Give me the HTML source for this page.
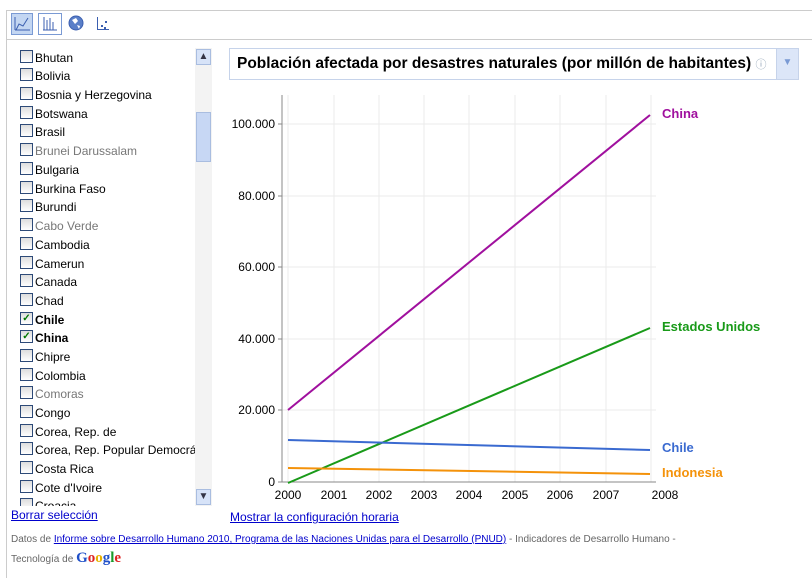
<!DOCTYPE html>
<html><head><meta charset="utf-8"><style>
body{margin:0;width:812px;height:578px;background:#fff;font-family:"Liberation Sans",Arial,sans-serif;position:relative;overflow:hidden}
.a{position:absolute}
.item{position:absolute;left:20px;font-size:12px;color:#000;height:18px;line-height:14px;white-space:nowrap}
.item span.cb{display:inline-block;width:11px;height:11px;border:1px solid #2d4a78;background:linear-gradient(#ddd,#fff);vertical-align:-1px;margin-right:2px;overflow:hidden;font-size:10px;line-height:11px;color:#070;text-align:center}
a{color:#00c}
</style></head><body>
<div class="a" style="left:6px;top:10px;width:806px;height:1px;background:#ccc"></div>
<div class="a" style="left:6px;top:10px;width:1px;height:568px;background:#ccc"></div>
<div class="a" style="left:6px;top:39px;width:806px;height:1px;background:#ccc"></div>
<div class="a" style="left:11px;top:13px;width:22px;height:22px;background:#c3d6f2;border:1px solid #7a9ad4;box-sizing:border-box"></div>
<div class="a" style="left:38px;top:13px;width:24px;height:22px;border:1px solid #7a9ad4;box-sizing:border-box"></div>
<svg class="a" style="left:0;top:0" width="120" height="40">
<polyline points="16,30 19,24 23,26 28,18" fill="none" stroke="#3b5fb0" stroke-width="1"/><line x1="15" y1="17" x2="15" y2="30" stroke="#3b5fb0"/><line x1="15" y1="30" x2="30" y2="30" stroke="#3b5fb0"/>
<g stroke="#3b5fb0"><line x1="44" y1="17" x2="44" y2="30"/><line x1="47" y1="20" x2="47" y2="30"/><line x1="50" y1="18" x2="50" y2="30"/><line x1="53" y1="22" x2="53" y2="30"/><line x1="43" y1="30" x2="57" y2="30"/></g>
<circle cx="76" cy="23" r="7" fill="#5a7fc8" stroke="#3b5fb0"/><path d="M72 20 l4 -2 l2 3 l-3 3z M77 25 l3 1 l-1 3z" fill="#fff"/>
<g fill="#3b5fb0"><rect x="97" y="17" width="1" height="13"/><rect x="97" y="29" width="12" height="1"/><rect x="101" y="25" width="2" height="2"/><rect x="105" y="21" width="2" height="2"/><rect x="104" y="27" width="2" height="2"/></g>
</svg>
<div class="a" style="left:195px;top:48px;width:17px;height:458px;background:#f3f3f3"></div>
<div class="a" style="left:196px;top:49px;width:15px;height:16px;background:#d7e3f8;border:1px solid #a9bde0;box-sizing:border-box;font-size:10px;color:#334;text-align:center;line-height:14px">▲</div>
<div class="a" style="left:196px;top:112px;width:15px;height:50px;background:#c7d7f4;border:1px solid #a9bde0;box-sizing:border-box"></div>
<div class="a" style="left:196px;top:489px;width:15px;height:16px;background:#d7e3f8;border:1px solid #a9bde0;box-sizing:border-box;font-size:10px;color:#334;text-align:center;line-height:14px">▼</div>
<div class="a" style="left:0;top:48px;width:195px;height:458px;overflow:hidden">
<div class="item" style="top:2px"><span class="cb"></span>Bhutan</div>
<div class="item" style="top:20px"><span class="cb"></span>Bolivia</div>
<div class="item" style="top:39px"><span class="cb"></span>Bosnia y Herzegovina</div>
<div class="item" style="top:58px"><span class="cb"></span>Botswana</div>
<div class="item" style="top:76px"><span class="cb"></span>Brasil</div>
<div class="item" style="top:95px;color:#777"><span class="cb"></span>Brunei Darussalam</div>
<div class="item" style="top:114px"><span class="cb"></span>Bulgaria</div>
<div class="item" style="top:133px"><span class="cb"></span>Burkina Faso</div>
<div class="item" style="top:151px"><span class="cb"></span>Burundi</div>
<div class="item" style="top:170px;color:#777"><span class="cb"></span>Cabo Verde</div>
<div class="item" style="top:189px"><span class="cb"></span>Cambodia</div>
<div class="item" style="top:208px"><span class="cb"></span>Camerun</div>
<div class="item" style="top:226px"><span class="cb"></span>Canada</div>
<div class="item" style="top:245px"><span class="cb"></span>Chad</div>
<div class="item" style="top:264px;font-weight:bold"><span class="cb">✓</span>Chile</div>
<div class="item" style="top:282px;font-weight:bold"><span class="cb">✓</span>China</div>
<div class="item" style="top:301px"><span class="cb"></span>Chipre</div>
<div class="item" style="top:320px"><span class="cb"></span>Colombia</div>
<div class="item" style="top:338px;color:#777"><span class="cb"></span>Comoras</div>
<div class="item" style="top:357px"><span class="cb"></span>Congo</div>
<div class="item" style="top:376px"><span class="cb"></span>Corea, Rep. de</div>
<div class="item" style="top:394px"><span class="cb"></span>Corea, Rep. Popular Democrática</div>
<div class="item" style="top:413px"><span class="cb"></span>Costa Rica</div>
<div class="item" style="top:432px"><span class="cb"></span>Cote d'Ivoire</div>
<div class="item" style="top:450px"><span class="cb"></span>Croacia</div>
</div>
<div class="a" style="left:11px;top:508px;font-size:12px"><a href="#">Borrar selección</a></div>
<div class="a" style="left:230px;top:510px;font-size:12px"><a href="#">Mostrar la configuración horaria</a></div>
<div class="a" style="left:11px;top:534px;font-size:10px;color:#666">Datos de <a href="#">Informe sobre Desarrollo Humano 2010, Programa de las Naciones Unidas para el Desarrollo (PNUD)</a> - Indicadores de Desarrollo Humano -</div>
<div class="a" style="left:11px;top:550px;font-size:10px;color:#666">Tecnología de <span style="font-family:'Liberation Serif',serif;font-size:15px;font-weight:bold"><span style="color:#1f4fc8">G</span><span style="color:#d22">o</span><span style="color:#e8b100">o</span><span style="color:#1f4fc8">g</span><span style="color:#1a9a2a">l</span><span style="color:#d22">e</span></span></div>
<div class="a" style="left:229px;top:48px;width:570px;height:32px;border:1px solid #c6d3ea;box-sizing:border-box"></div>
<div class="a" style="left:776px;top:48px;width:23px;height:32px;background:#dce6f8;border:1px solid #c6d3ea;box-sizing:border-box;color:#7a9ad4;font-size:10px;text-align:center;line-height:28px">▼</div>
<div class="a" style="left:237px;top:55px;font-size:15.5px;font-weight:bold;color:#000;white-space:nowrap">Población afectada por desastres naturales (por millón de habitantes) <span style="font-size:11px;color:#9ab;font-weight:normal">ⓘ</span></div>
<svg class="a" style="left:0;top:0" width="812" height="578" font-family="Liberation Sans,Arial,sans-serif" font-size="12">
<g stroke="#ebebeb"><line x1="288" y1="95" x2="288" y2="482"/><line x1="334" y1="95" x2="334" y2="482"/><line x1="379" y1="95" x2="379" y2="482"/><line x1="424" y1="95" x2="424" y2="482"/><line x1="469" y1="95" x2="469" y2="482"/><line x1="515" y1="95" x2="515" y2="482"/><line x1="560" y1="95" x2="560" y2="482"/><line x1="606" y1="95" x2="606" y2="482"/><line x1="651" y1="95" x2="651" y2="482"/>
<line x1="282" y1="124" x2="656" y2="124"/><line x1="282" y1="196" x2="656" y2="196"/><line x1="282" y1="267" x2="656" y2="267"/><line x1="282" y1="339" x2="656" y2="339"/><line x1="282" y1="410" x2="656" y2="410"/></g>
<line x1="282" y1="95" x2="282" y2="482" stroke="#888"/><line x1="282" y1="482" x2="656" y2="482" stroke="#888"/>
<g stroke="#888"><line x1="278" y1="124" x2="282" y2="124"/><line x1="278" y1="196" x2="282" y2="196"/><line x1="278" y1="267" x2="282" y2="267"/><line x1="278" y1="339" x2="282" y2="339"/><line x1="278" y1="410" x2="282" y2="410"/><line x1="278" y1="482" x2="282" y2="482"/></g>
<g text-anchor="end" fill="#000"><text x="275" y="128">100.000</text><text x="275" y="200">80.000</text><text x="275" y="271">60.000</text><text x="275" y="343">40.000</text><text x="275" y="414">20.000</text><text x="275" y="486">0</text></g>
<g text-anchor="middle" fill="#000"><text x="288" y="499">2000</text><text x="334" y="499">2001</text><text x="379" y="499">2002</text><text x="424" y="499">2003</text><text x="469" y="499">2004</text><text x="515" y="499">2005</text><text x="560" y="499">2006</text><text x="606" y="499">2007</text><text x="665" y="499">2008</text></g>
<g stroke-width="2" fill="none"><line x1="288" y1="410" x2="650" y2="115" stroke="#a0109e"/><line x1="288" y1="483" x2="650" y2="328" stroke="#199a19"/><line x1="288" y1="440" x2="650" y2="450" stroke="#3a6ad0"/><line x1="288" y1="468" x2="650" y2="474" stroke="#f4920a"/></g>
<g font-weight="bold" font-size="13"><text x="662" y="118" fill="#a0109e">China</text><text x="662" y="331" fill="#199a19">Estados Unidos</text><text x="662" y="452" fill="#3a6ad0">Chile</text><text x="662" y="477" fill="#f4920a">Indonesia</text></g>
</svg>
</body></html>
